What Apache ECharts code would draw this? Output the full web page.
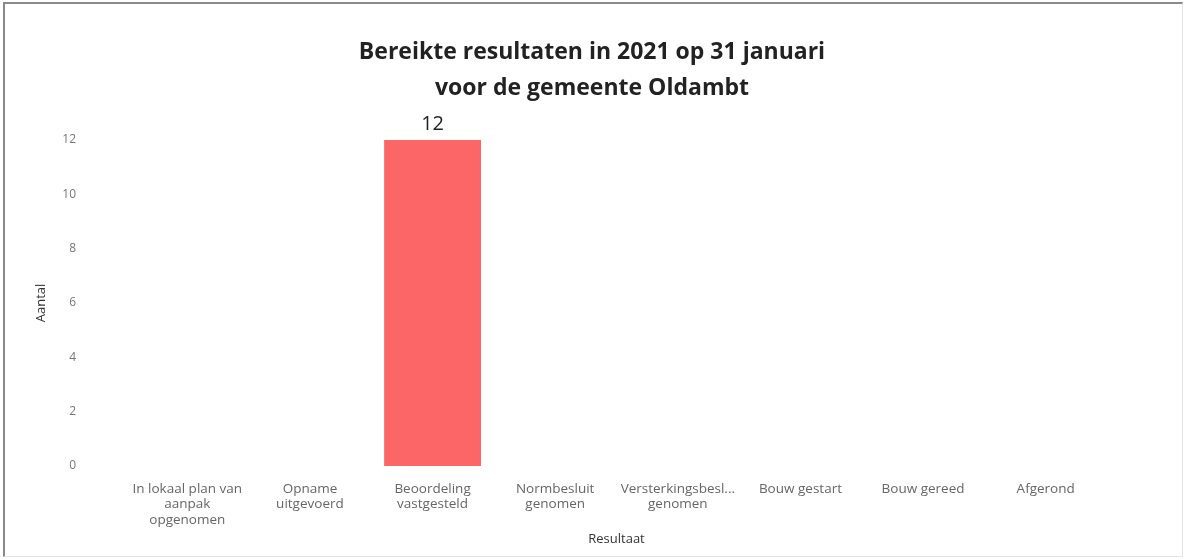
<!DOCTYPE html>
<html>
<head>
<meta charset="utf-8">
<script src="https://cdn.jsdelivr.net/npm/echarts@6/dist/echarts.min.js"></script>
<style>
html,body{margin:0;padding:0;background:#fff;}
#frame{position:absolute;left:3px;top:2px;width:1177px;height:552px;border-top:2px solid #8a8a8a;border-left:2px solid #8a8a8a;border-right:1px solid #e4e4e4;border-bottom:1px solid #e4e4e4;}
#chart{position:absolute;left:0;top:0;width:1184px;height:558px;}
</style>
</head>
<body>
<div id="frame"></div>
<div id="chart"></div>
<script>
const titleText = "Bereikte resultaten in 2021 op 31 januari\nvoor de gemeente Oldambt";
const categories = [
  "In lokaal plan van\naanpak\nopgenomen",
  "Opname\nuitgevoerd",
  "Beoordeling\nvastgesteld",
  "Normbesluit\ngenomen",
  "Versterkingsbesl...\ngenomen",
  "Bouw gestart",
  "Bouw gereed",
  "Afgerond"
];
const values = [0, 0, 12, 0, 0, 0, 0, 0];
const yTicks = [0, 2, 4, 6, 8, 10, 12];
const xAxisName = "Resultaat";
const yAxisName = "Aantal";

const chart = echarts.init(document.getElementById('chart'), null, {renderer: 'canvas'});
chart.setOption({
  animation: false,
  backgroundColor: 'transparent',
  title: {
    text: titleText,
    left: 'center',
    top: 29,
    textStyle: {
      fontFamily: 'Open Sans',
      fontWeight: 'bold',
      fontSize: 23,
      color: '#222',
      lineHeight: 36
    }
  },
  grid: {left: 126, right: 77, top: 140, bottom: 92, containLabel: false},
  xAxis: {
    type: 'category',
    data: categories,
    name: xAxisName,
    nameLocation: 'middle',
    nameGap: 67,
    nameTextStyle: {fontFamily: 'Open Sans', fontSize: 13, color: '#333'},
    axisLine: {show: false},
    axisTick: {show: false},
    axisLabel: {
      interval: 0,
      margin: 15,
      fontFamily: 'Open Sans',
      fontSize: 13.5,
      color: '#666',
      lineHeight: 15.5
    }
  },
  yAxis: {
    type: 'value',
    min: yTicks[0],
    max: yTicks[yTicks.length - 1],
    interval: 2,
    name: yAxisName,
    nameLocation: 'middle',
    nameGap: 78,
    nameRotate: 90,
    nameTextStyle: {fontFamily: 'Open Sans', fontSize: 13, color: '#333'},
    axisLine: {show: false},
    axisTick: {show: false},
    splitLine: {show: false},
    axisLabel: {
      margin: 50,
      align: 'right',
      fontFamily: 'Open Sans',
      fontSize: 12,
      color: '#777'
    }
  },
  series: [{
    type: 'bar',
    data: values,
    barCategoryGap: '21%',
    itemStyle: {color: '#fd6666'},
    label: {
      show: true,
      position: 'top',
      distance: 6,
      fontFamily: 'Open Sans',
      fontSize: 20,
      color: '#222',
      formatter: p => p.value > 0 ? String(p.value) : ''
    }
  }]
});
</script>
</body>
</html>
